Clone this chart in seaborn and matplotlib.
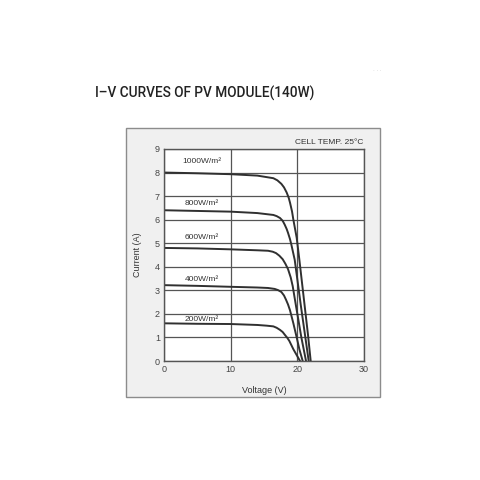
import pandas as pd
import matplotlib
matplotlib.use('Agg')
import matplotlib.pyplot as plt
import seaborn as sns
from matplotlib.patches import Rectangle

# I-V curve readings (voltage in V, current in A) for each irradiance
v_1000 = [0, 5, 10, 14, 16.4, 17.0, 17.6, 18.0, 18.4, 18.7, 18.9, 19.2, 19.4, 19.9, 20.3, 21.1, 21.6, 22.0]
i_1000 = [8.0, 7.97, 7.93, 7.87, 7.76, 7.67, 7.52, 7.37, 7.15, 6.93, 6.72, 6.35, 6.0, 5.23, 4.3, 2.33, 1.1, 0]

v_800 = [0, 5, 10, 14, 16.4, 16.9, 17.4, 17.8, 18.1, 18.4, 18.6, 18.9, 19.1, 19.6, 20.5, 21.1, 21.7]
i_800 = [6.4, 6.37, 6.34, 6.28, 6.2, 6.15, 6.07, 5.95, 5.79, 5.6, 5.44, 5.17, 4.94, 4.3, 2.4, 1.2, 0]

v_600 = [0, 5, 10, 14, 15.6, 16.3, 16.8, 17.3, 17.8, 18.2, 18.6, 19.0, 19.3, 19.8, 20.6, 21.3]
i_600 = [4.8, 4.78, 4.74, 4.7, 4.68, 4.64, 4.58, 4.47, 4.32, 4.13, 3.9, 3.55, 3.18, 2.33, 1.0, 0]

v_400 = [0, 5, 10, 14, 15.6, 16.6, 17.1, 17.6, 18.0, 18.3, 18.6, 18.9, 19.4, 19.9, 20.3, 20.8]
i_400 = [3.22, 3.19, 3.15, 3.12, 3.1, 3.06, 3.01, 2.93, 2.78, 2.6, 2.4, 2.15, 1.6, 1.0, 0.5, 0]

v_200 = [0, 5, 10, 14, 15.4, 16.4, 16.9, 17.4, 17.8, 18.1, 18.5, 18.8, 19.4, 20.0, 20.4]
i_200 = [1.6, 1.58, 1.57, 1.53, 1.5, 1.47, 1.41, 1.32, 1.23, 1.12, 0.98, 0.85, 0.5, 0.2, 0]

labels = ['1000W/m²', '800W/m²', '600W/m²', '400W/m²', '200W/m²']
label_v = [5.7, 5.7, 5.7, 5.7, 5.7]
label_i = [8.48, 6.69, 5.23, 3.48, 1.77]

curves = [(v_1000, i_1000), (v_800, i_800), (v_600, i_600), (v_400, i_400), (v_200, i_200)]
rows = []
for name, (vs, cs) in zip(labels, curves):
    for v, c in zip(vs, cs):
        rows.append({'irr': name, 'V': v, 'I': c})
df = pd.DataFrame(rows)

sns.set_style('white')
plt.rcParams['font.family'] = ['Liberation Sans', 'DejaVu Sans']

fig = plt.figure(figsize=(4.8, 4.8), dpi=100)
fig.patch.set_facecolor('white')

# grey panel behind the chart
fig.patches.append(Rectangle((0.2625, 0.173), 0.529, 0.560, transform=fig.transFigure,
                             facecolor='#f0f0f0', edgecolor='#8c8c8c', lw=1.0, zorder=0))

ax = fig.add_axes([0.3417, 0.2479, 0.4167, 0.4417])
ax.set_zorder(2)
ax.set_facecolor('white')
sns.lineplot(data=df, x='V', y='I', hue='irr', palette=['#303030'] * 5,
             legend=False, lw=1.4, ax=ax)

ax.set_xlim(0, 30)
ax.set_ylim(0, 9)
ax.set_xticks([0, 10, 20, 30])
ax.set_yticks(range(10))
ax.grid(True, color='#555555', lw=0.9)
ax.set_axisbelow(True)
for s in ax.spines.values():
    s.set_color('#555555')
    s.set_linewidth(1.0)
ax.tick_params(length=0, labelsize=6.5, colors='#444444', pad=3)

ax.set_xlabel('Voltage (V)', fontsize=6.5, color='#333333')
ax.set_ylabel('Current (A)', fontsize=6.5, color='#333333')
ax.xaxis.set_label_coords(0.5, -0.118)
ax.yaxis.set_label_coords(-0.11, 0.5)

for t, x, y in zip(labels, label_v, label_i):
    ax.text(x, y, t, fontsize=6, color='#333333', ha='center', va='center')

fig.text(0.756, 0.704, 'CELL TEMP. 25°C', fontsize=6, color='#333333', ha='right', va='center')

fig.text(0.198, 0.806, 'I–V CURVES OF PV MODULE(140W)', fontsize=9.8, color='#222222',
         ha='left', va='center', family=['Roboto', 'DejaVu Sans'], fontweight='medium')
fig.text(0.787, 0.854, '· · ·', fontsize=4, color='#bbbbbb', ha='center', va='center')

fig.savefig('out.png', dpi=100)
